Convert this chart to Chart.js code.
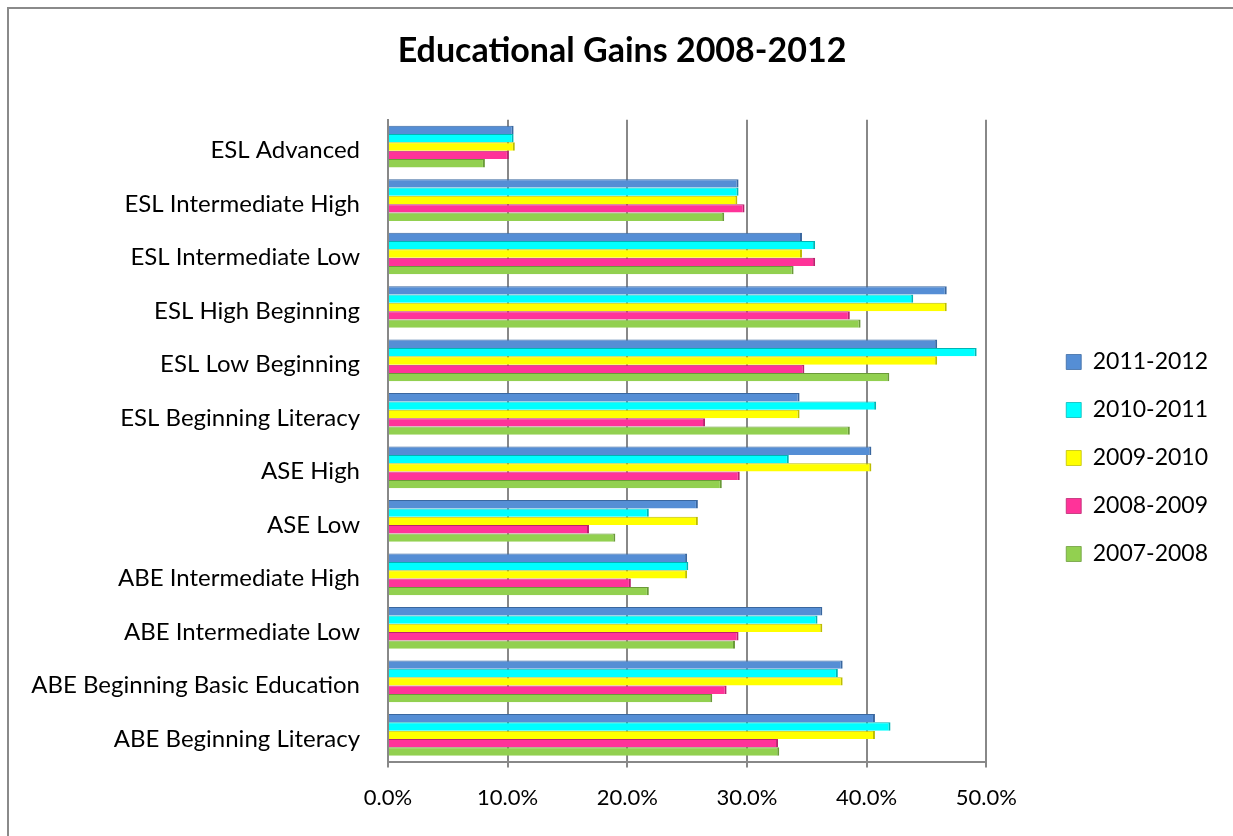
<!DOCTYPE html>
<html lang="en">
<head>
<meta charset="UTF-8">
<title>Educational Gains 2008-2012</title>
<script src="https://cdn.jsdelivr.net/npm/chart.js@4.4.1/dist/chart.umd.min.js"></script>
<style>
    html, body { margin: 0; padding: 0; background: #fff; }
    .frame {
        position: absolute; left: 7px; top: 7px; width: 1226px; height: 829px;
        border-left: 2px solid #8a8a8a; border-top: 2px solid #8a8a8a; box-sizing: border-box;
    }
    .wrap { position: absolute; left: 0; top: 0; width: 1233px; height: 836px; }
</style>
</head>
<body>
<div class="frame"></div>
<div class="wrap"><canvas id="gainsChart"></canvas></div>
<script>
    // categories, top to bottom
    const categories = [
        'ESL Advanced', 'ESL Intermediate High', 'ESL Intermediate Low', 'ESL High Beginning',
        'ESL Low Beginning', 'ESL Beginning Literacy', 'ASE High', 'ASE Low',
        'ABE Intermediate High', 'ABE Intermediate Low', 'ABE Beginning Basic Education', 'ABE Beginning Literacy'
    ];

    // gains in percent
    const y2011_2012 = [10.5, 29.3, 34.6, 46.7, 45.9, 34.4, 40.4, 25.9, 25.0, 36.3, 38.0, 40.7];
    const y2010_2011 = [10.5, 29.3, 35.7, 43.9, 49.2, 40.8, 33.5, 21.8, 25.1, 35.9, 37.6, 42.0];
    const y2009_2010 = [10.6, 29.2, 34.6, 46.7, 45.9, 34.4, 40.4, 25.9, 25.0, 36.3, 38.0, 40.7];
    const y2008_2009 = [10.1, 29.8, 35.7, 38.6, 34.8, 26.5, 29.4, 16.8, 20.3, 29.3, 28.3, 32.6];
    const y2007_2008 = [8.1, 28.1, 33.9, 39.5, 41.9, 38.6, 27.9, 19.0, 21.8, 29.0, 27.1, 32.7];

    const xTicks = [0, 10, 20, 30, 40, 50];

    const FONT = 'Lato, "Open Sans", sans-serif';

    function series(label, values, fill, edge) {
        return {
            label: label,
            data: values,
            backgroundColor: fill,
            borderColor: edge,
            borderWidth: { top: 1, right: 2, bottom: 0, left: 0 },
            borderSkipped: false,
            barPercentage: 1.0,
            categoryPercentage: 0.78
        };
    }

    new Chart(document.getElementById('gainsChart'), {
        type: 'bar',
        data: {
            labels: categories,
            datasets: [
                series('2011-2012', y2011_2012, '#558ED5', '#3A679F'),
                series('2010-2011', y2010_2011, '#00FFFF', '#00B5B5'),
                series('2009-2010', y2009_2010, '#FFFF00', '#BDBD00'),
                series('2008-2009', y2008_2009, '#FF3399', '#B8236E'),
                series('2007-2008', y2007_2008, '#92D050', '#6A9A38')
            ]
        },
        options: {
            indexAxis: 'y',
            responsive: true,
            maintainAspectRatio: false,
            animation: false,
            layout: { padding: { left: 26, right: 15, top: 0, bottom: 8 } },
            plugins: {
                title: {
                    display: true,
                    text: 'Educational Gains 2008-2012',
                    color: '#000',
                    font: { family: FONT, size: 34, weight: 'bold' },
                    padding: { top: 31, bottom: 48 }
                },
                legend: {
                    position: 'right',
                    align: 'center',
                    // empty title only pushes the items down
                    title: { display: true, text: ' ', font: { size: 10 }, padding: { top: 0, bottom: 76 } },
                    labels: {
                        color: '#000',
                        font: { family: FONT, size: 23 },
                        boxWidth: 15,
                        boxHeight: 15,
                        padding: 25
                    }
                },
                tooltip: { enabled: false }
            },
            scales: {
                x: {
                    min: 0,
                    max: 50,
                    afterBuildTicks: (scale) => { scale.ticks = xTicks.map(v => ({ value: v })); },
                    ticks: {
                        color: '#000',
                        font: { family: FONT, size: 22 },
                        padding: 17,
                        callback: (v) => Number(v).toFixed(1) + '%'
                    },
                    grid: { color: '#888', lineWidth: 2, tickLength: 6 },
                    border: { color: '#888', width: 2 }
                },
                y: {
                    afterFit: (scale) => { scale.width = 362; },
                    ticks: {
                        color: '#000',
                        font: { family: FONT, size: 24 },
                        padding: 20,
                        labelOffset: 4
                    },
                    grid: { display: false },
                    border: { color: '#888', width: 2 }
                },
                gap: {
                    axis: 'y',
                    type: 'linear',
                    position: 'right',
                    afterFit: (scale) => { scale.width = 55; },
                    ticks: { display: false },
                    grid: { display: false },
                    border: { display: false }
                }
            }
        }
    });
</script>
</body>
</html>
